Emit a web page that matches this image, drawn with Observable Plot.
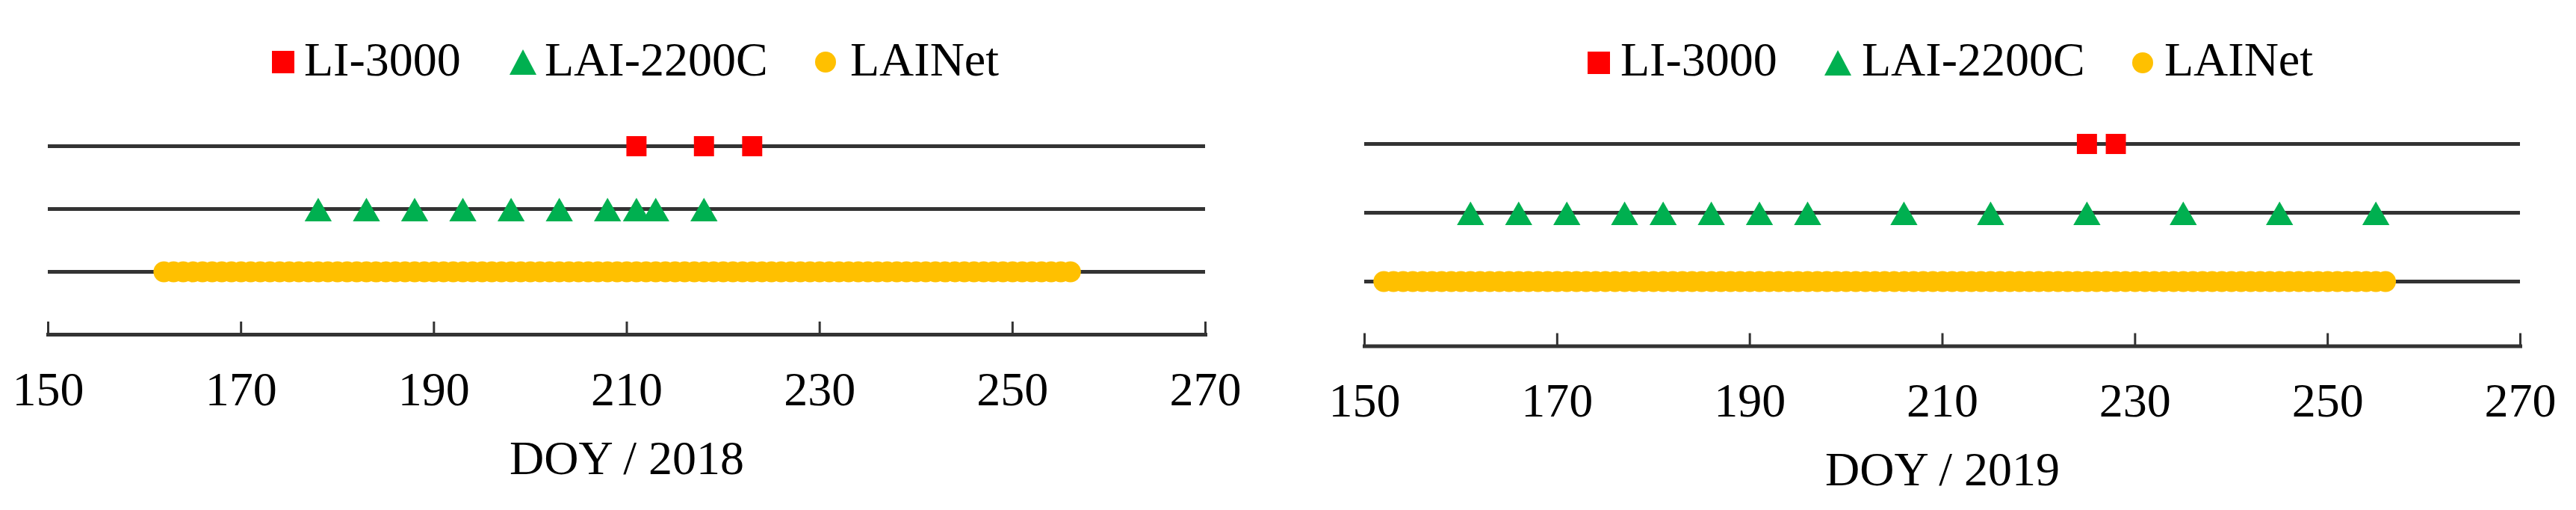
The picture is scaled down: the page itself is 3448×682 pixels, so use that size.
<!DOCTYPE html>
<html>
<head>
<meta charset="utf-8">
<script src="https://cdn.jsdelivr.net/npm/d3@7"></script>
<script src="https://cdn.jsdelivr.net/npm/@observablehq/plot@0.6"></script>
<style>
  html, body { margin: 0; padding: 0; background: #fff; overflow: hidden; }
  #wrap { position: relative; width: 3448px; height: 682px; background: #fff; }
  .panel { position: absolute; top: 0; width: 1724px; height: 682px; }
  .legend { position: relative; width: 1724px; height: 140px; }
  .sw { position: absolute; }
  .lt { position: absolute; font-family: "Liberation Serif", "Times New Roman", serif; font-size: 64px; line-height: 1; color: #000; white-space: nowrap; }
  .panel svg { display: block; }
</style>
</head>
<body>
<div id="wrap"></div>
<script>
// ---- data ----
const instruments = ["LI-3000", "LAI-2200C", "LAINet"];
const colors = ["#FF0000", "#00B050", "#FFC000"];
const xTicks = [150, 170, 190, 210, 230, 250, 270];
const titles = ["DOY / 2018", "DOY / 2019"];

const li3000_2018 = [211, 218, 223];
const lai2200c_2018 = [178, 183, 188, 193, 198, 203, 208, 211, 213, 218];
const lainet_2018 = [162, 163, 164, 165, 166, 167, 168, 169, 170, 171, 172, 173, 174, 175, 176, 177, 178, 179, 180,
  181, 182, 183, 184, 185, 186, 187, 188, 189, 190, 191, 192, 193, 194, 195, 196, 197, 198, 199, 200,
  201, 202, 203, 204, 205, 206, 207, 208, 209, 210, 211, 212, 213, 214, 215, 216, 217, 218, 219, 220,
  221, 222, 223, 224, 225, 226, 227, 228, 229, 230, 231, 232, 233, 234, 235, 236, 237, 238, 239, 240,
  241, 242, 243, 244, 245, 246, 247, 248, 249, 250, 251, 252, 253, 254, 255, 256];

const li3000_2019 = [225, 228];
const lai2200c_2019 = [161, 166, 171, 177, 181, 186, 191, 196, 206, 215, 225, 235, 245, 255];
const lainet_2019 = [152, 153, 154, 155, 156, 157, 158, 159, 160,
  161, 162, 163, 164, 165, 166, 167, 168, 169, 170, 171, 172, 173, 174, 175, 176, 177, 178, 179, 180,
  181, 182, 183, 184, 185, 186, 187, 188, 189, 190, 191, 192, 193, 194, 195, 196, 197, 198, 199, 200,
  201, 202, 203, 204, 205, 206, 207, 208, 209, 210, 211, 212, 213, 214, 215, 216, 217, 218, 219, 220,
  221, 222, 223, 224, 225, 226, 227, 228, 229, 230, 231, 232, 233, 234, 235, 236, 237, 238, 239, 240,
  241, 242, 243, 244, 245, 246, 247, 248, 249, 250, 251, 252, 253, 254, 255, 256];

// ---- layout (pixels) ----
const panels = [
  { left: 0, title: titles[0], li: li3000_2018, lai: lai2200c_2018, net: lainet_2018,
    ml: 64, mr: 111, mb: 235, yRange: [55, 223],
    legend: { sw: [379, 700, 1105], tx: [407, 729, 1138], cy: 83 } },
  { left: 1724, title: titles[1], li: li3000_2019, lai: lai2200c_2019, net: lainet_2019,
    ml: 102, mr: 75, mb: 219.5, yRange: [51.7, 236.7],
    legend: { sw: [2140 - 1724, 2460 - 1724, 2868 - 1724], tx: [2169 - 1724, 2492 - 1724, 2897 - 1724], cy: 84 } }
];

const wrap = document.getElementById("wrap");
const font = "'Liberation Serif', 'Times New Roman', serif";

function swatch(kind, cx, cy, color) {
  const el = document.createElement("div");
  el.className = "sw";
  if (kind === 0) {
    Object.assign(el.style, { left: (cx - 15) + "px", top: (cy - 15) + "px", width: "30px", height: "30px", background: color });
  } else if (kind === 1) {
    Object.assign(el.style, { left: (cx - 18) + "px", top: (cy - 17) + "px", width: "36px", height: "34px" });
    el.innerHTML = `<svg width="36" height="34"><polygon points="18,0 36,34 0,34" fill="${color}"/></svg>`;
  } else {
    Object.assign(el.style, { left: (cx - 14) + "px", top: (cy - 14) + "px", width: "28px", height: "28px", borderRadius: "50%", background: color });
  }
  return el;
}

for (const p of panels) {
  const div = document.createElement("div");
  div.className = "panel";
  div.style.left = p.left + "px";

  const leg = document.createElement("div");
  leg.className = "legend";
  instruments.forEach((name, i) => {
    leg.appendChild(swatch(i, p.legend.sw[i], p.legend.cy, colors[i]));
    const t = document.createElement("div");
    t.className = "lt";
    t.textContent = name;
    t.style.left = p.legend.tx[i] + "px";
    t.style.top = "48px";
    leg.appendChild(t);
  });
  div.appendChild(leg);

  const chart = Plot.plot({
    width: 1724,
    height: 542,
    marginLeft: p.ml,
    marginRight: p.mr,
    marginTop: 0,
    marginBottom: p.mb,
    style: { fontFamily: font, fontSize: "64px", color: "#000", background: "#fff" },
    x: { domain: [150, 270] },
    y: { type: "point", domain: instruments, range: p.yRange, padding: 0, axis: null },
    marks: [
      Plot.ruleY(instruments, { stroke: "#333", strokeWidth: 5 }),
      Plot.frame({ anchor: "bottom", stroke: "#333", strokeWidth: 5 }),
      Plot.axisX({ ticks: xTicks, tickSize: -17, tickPadding: 66, strokeWidth: 3, stroke: "#333",
                   fill: "#000", fontSize: 64, tickFormat: d => String(d), label: null }),
      Plot.text([p.title], { text: d => d, frameAnchor: "bottom", dy: 166, lineAnchor: "middle",
                             fontSize: 64, fill: "#000" }),
      Plot.dot(p.net, { x: d => d, y: () => instruments[2], r: 14, fill: colors[2], stroke: null }),
      Plot.dot(p.lai, { x: d => d, y: () => instruments[1], symbol: "triangle", r: 13.5, dy: 6, fill: colors[1], stroke: null }),
      Plot.dot(p.li, { x: d => d, y: () => instruments[0], symbol: "square", r: 15.2, fill: colors[0], stroke: null })
    ]
  });
  div.appendChild(chart);
  wrap.appendChild(div);
}
</script>
</body>
</html>
